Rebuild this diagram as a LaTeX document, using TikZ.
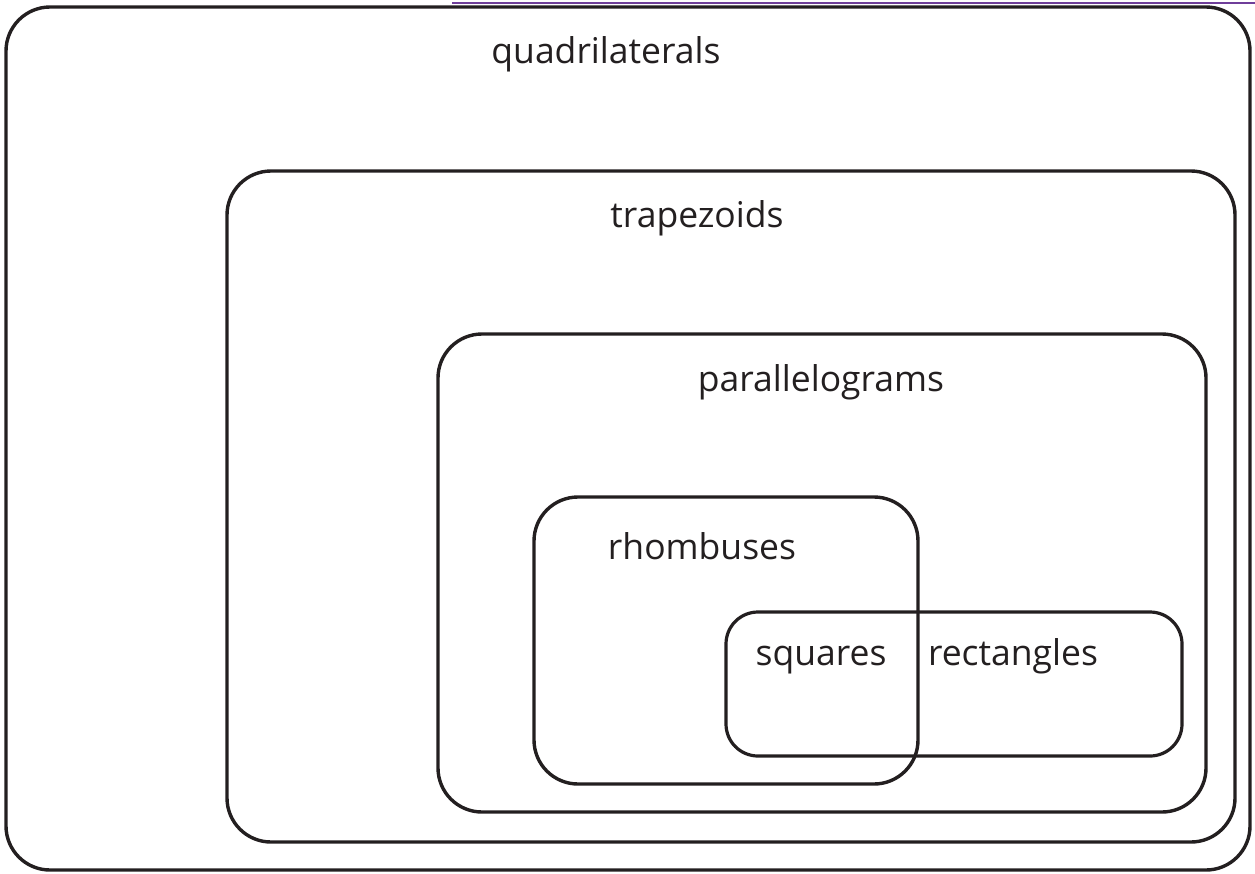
\documentclass[tikz,border=0pt]{standalone}
\usepackage{fontspec}
\setmainfont{Open Sans}
\definecolor{ink}{HTML}{231F20}
\definecolor{topline}{HTML}{6F3E9A}
\begin{document}
\begin{tikzpicture}[x=1pt,y=-1pt,
  setbox/.style={draw=ink,line width=3.4pt,rounded corners=44pt},
  lbl/.style={anchor=base,text=ink,inner sep=0pt,font=\fontsize{35.5}{42}\selectfont}]
\useasboundingbox (0,0) rectangle (1255,873);
\draw[topline,line width=2.6pt] (452,3) -- (1255,3);
\draw[setbox] (6,7) rectangle (1250,870);
\draw[setbox] (227,171) rectangle (1235,842);
\draw[setbox] (438,334) rectangle (1206,812);
\draw[setbox] (534,497) rectangle (918,784);
\draw[setbox,rounded corners=32pt,line width=3.2pt] (726,612) rectangle (1182,756);
\node[lbl] (quad) at (606,63) {quadrilaterals};
\node[lbl] (trap) at (697,227) {trapezoids};
\node[lbl] (para) at (821,391) {parallelograms};
\node[lbl] (rhom) at (702,559) {rhombuses};
\node[lbl] (squa) at (821,665) {squares};
\node[lbl] (rect) at (1013,665) {rectangles};
\end{tikzpicture}
\end{document}
